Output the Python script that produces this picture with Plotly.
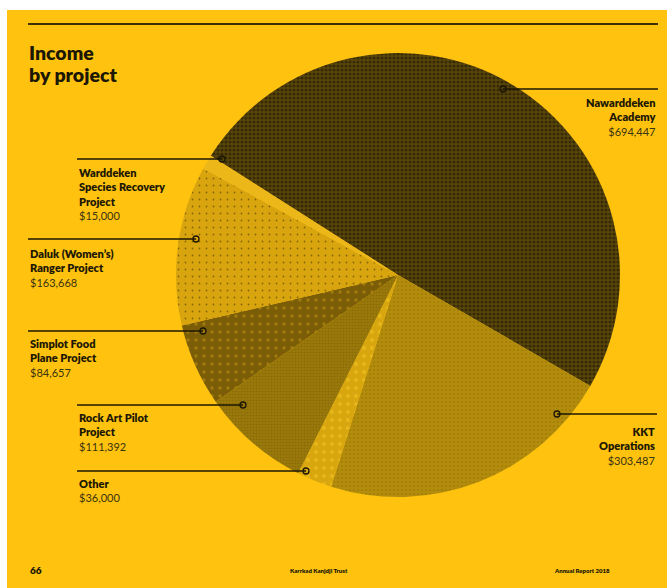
import plotly.graph_objects as go

W, H = 667, 588

# ---- data ----
projects = ["Nawarddeken Academy", "KKT Operations", "Other", "Rock Art Pilot Project",
            "Simplot Food Plane Project", "Daluk (Women's) Ranger Project",
            "Warddeken Species Recovery Project"]
income = [694447, 303487, 36000, 111392, 84657, 163668, 15000]
label_lines = [["Nawarddeken", "Academy"], ["KKT", "Operations"], ["Other"],
               ["Rock Art Pilot", "Project"], ["Simplot Food", "Plane Project"],
               ["Daluk (Women’s)", "Ranger Project"],
               ["Warddeken", "Species Recovery", "Project"]]
title_lines = ["Income", "by project"]

# ---- styles ----
BG = "#FEC20F"
INK = "#1c1703"
slice_bg = ["#5a460a", "#b38c0b", "#d8a60e", "#9c7a0b", "#7a5d06", "#d9a50f", "#ecb719"]
slice_fg = ["#140f00", "#7a5f08", "#f7c726", "#7a5e08", "#c99a18", "#2e2300", "#ecb719"]
pat_shape = [".", ".", ".", ".", ".", ".", ""]
pat_size = [4, 4, 8, 3, 8, 7, 6]
pat_sol = [0.5, 0.15, 0.18, 0.4, 0.13, 0.05, 0.1]

def px(x):
    return x / W

def py(y):
    return 1 - y / H

cx, cy, r = 398, 275, 222

fig = go.Figure()
fig.add_trace(go.Pie(
    labels=projects, values=income, sort=False, direction="clockwise",
    rotation=-57.5, textinfo="none", hoverinfo="label+value",
    showlegend=False,
    domain=dict(x=[px(cx - r), px(cx + r)], y=[py(cy + r), py(cy - r)]),
    marker=dict(colors=slice_bg, line=dict(width=0),
                pattern=dict(shape=pat_shape, fillmode="overlay", bgcolor=slice_bg,
                             fgcolor=slice_fg, size=pat_size, solidity=pat_sol)),
))

shapes = [
    dict(type="rect", xref="paper", yref="paper", x0=px(7), x1=1, y0=0, y1=py(10),
         fillcolor=BG, line=dict(width=0), layer="below"),
    dict(type="line", xref="paper", yref="paper", x0=px(28), x1=px(658), y0=py(24), y1=py(24),
         line=dict(color="#3a2e05", width=2)),
]

# callouts: (index, line x0, line x1, line y, dot x, text x, align, text top y)
callouts = [
    (0, 503, 658, 89, 503, 658, "right", 94),
    (6, 77, 222, 159, 222, 77, "left", 164),
    (5, 28, 196, 239, 196, 28, "left", 245),
    (4, 28, 203, 331, 203, 28, "left", 335),
    (3, 77, 243, 405, 243, 77, "left", 409),
    (2, 77, 306, 471, 306, 77, "left", 475),
    (1, 557, 657, 414, 557, 657, "right", 423),
]

annotations = []
for k, t in enumerate(title_lines):
    annotations.append(dict(text=t, x=px(27), y=py(39 + 22 * k), xref="paper", yref="paper",
                            xanchor="left", yanchor="top", align="left", showarrow=False,
                            font=dict(family="Lato", size=19.5, color=INK, weight=800)))
annotations += [
    dict(text="66", x=px(28), y=py(570), xref="paper", yref="paper",
         xanchor="left", yanchor="middle", showarrow=False,
         font=dict(family="Lato", size=10, color=INK, weight=800)),
    dict(text="Karrkad Kanjdji Trust", x=px(319), y=py(570), xref="paper", yref="paper",
         xanchor="center", yanchor="middle", showarrow=False,
         font=dict(family="Lato", size=6, color=INK, weight=800)),
    dict(text="Annual Report 2018", x=px(612), y=py(570), xref="paper", yref="paper",
         xanchor="right", yanchor="middle", showarrow=False,
         font=dict(family="Lato", size=6, color=INK, weight=800)),
]

for i, lx0, lx1, ly, dx, tx, al, ty in callouts:
    shapes.append(dict(type="line", xref="paper", yref="paper", x0=px(lx0), x1=px(lx1),
                       y0=py(ly), y1=py(ly), line=dict(color=INK, width=1.3)))
    shapes.append(dict(type="circle", xref="paper", yref="paper", xsizemode="pixel",
                       ysizemode="pixel", xanchor=px(dx), yanchor=py(ly),
                       x0=-3, x1=3, y0=-3, y1=3, line=dict(color=INK, width=1.3),
                       fillcolor="rgba(0,0,0,0)"))
    txt = "<br>".join(label_lines[i])
    txt += "<br><span style='font-weight:400;color:#3b3310'>$%s</span>" % format(income[i], ",")
    annotations.append(dict(text=txt, x=px(tx), y=py(ty), xref="paper", yref="paper",
                            xanchor=al, yanchor="top", align=al, showarrow=False,
                            font=dict(family="Lato", size=11, color=INK, weight=800)))

fig.update_layout(
    width=W, height=H, margin=dict(l=0, r=0, t=0, b=0),
    paper_bgcolor="white", plot_bgcolor="white",
    shapes=shapes, annotations=annotations,
)

fig.write_html("out.html")
